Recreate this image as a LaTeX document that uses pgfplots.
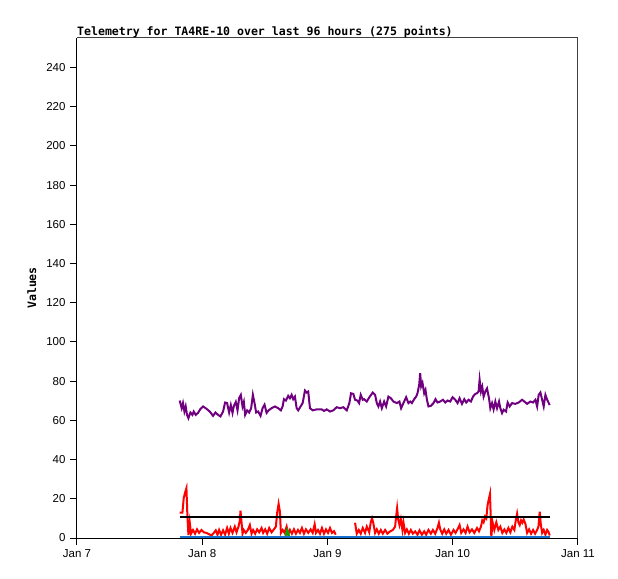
\documentclass[border=0pt]{standalone}
\usepackage{fontspec}
\setmainfont{Liberation Sans}
\newfontfamily\monob{DejaVu Sans Mono}
\usepackage{pgfplots}
\pgfplotsset{compat=1.18}
\definecolor{cpurple}{RGB}{112,0,128}
\definecolor{cblue}{RGB}{20,110,205}
\definecolor{cgreen}{RGB}{0,170,0}
\definecolor{cframe}{RGB}{64,64,64}
\begin{document}
\begin{tikzpicture}
\useasboundingbox (-77bp,-41bp) rectangle (541bp,538bp);
\begin{axis}[
  scale only axis, width=501bp, height=500bp,
  xmin=0, xmax=96, ymin=0, ymax=255,
  clip=false,
  axis x line*=bottom, axis y line*=left,
  axis line style={black, line width=1bp, -},
  x axis line style={opacity=0},
  tick style={black, line width=1bp},
  tick align=outside, major tick length=7bp,
  xtick={0,24,48,72,96},
  xticklabels={Jan 7,Jan 8,Jan 9,Jan 10,Jan 11},
  ytick={0,20,...,240},
  /pgf/number format/assume math mode=true,
  ticklabel style={font=\fontsize{11.5bp}{13bp}\selectfont},
  yticklabel style={xshift=-1bp},
  xticklabel style={yshift=-1bp},
  title={Telemetry for TA4RE-10 over last 96 hours (275 points)},
  title style={at={(axis description cs:0,1)}, anchor=base west, yshift=-3bp, inner sep=0pt,
    font=\monob\bfseries\fontsize{11.55bp}{13bp}\selectfont},
  ylabel={Values},
  ylabel style={at={(axis description cs:-0.09,0.5)}, anchor=center,
    font=\monob\bfseries\fontsize{11.55bp}{13bp}\selectfont},
  every axis plot/.append style={line width=2bp},
]
\draw[black, line width=1bp] (rel axis cs:0,0) -- (rel axis cs:1,0);
\draw[cframe, line width=1bp] (rel axis cs:0,1) -- (rel axis cs:1,1) -- (rel axis cs:1,0);
% purple
\addplot[cpurple] coordinates {
(19.68,70.1)(20.06,66.2)(20.31,68.8)(20.58,64.5)(20.83,67.1)(21.08,62.8)(21.35,61.1)(21.73,64.0)
(22.12,62.8)(22.37,64.5)(22.75,62.8)(23.19,63.8)(23.65,65.8)(24.15,67.1)(24.81,65.9)(25.44,64.5)
(26.07,62.3)(26.53,64.0)(27.03,62.8)(27.49,62.0)(27.99,64.5)(28.38,69.1)(28.76,68.8)(29.15,64.0)
(29.47,67.8)(29.80,63.8)(30.05,67.3)(30.43,69.4)(30.76,65.1)(31.07,71.3)(31.39,73.0)(31.72,67.1)
(31.97,69.4)(32.22,62.8)(32.60,65.1)(32.99,64.0)(33.37,66.2)(33.70,73.0)(34.02,68.8)(34.33,64.0)
(34.71,64.5)(35.17,62.3)(35.56,66.2)(35.94,68.0)(36.33,63.8)(36.71,65.1)(37.29,66.2)(37.92,67.1)
(38.55,66.2)(39.07,65.1)(39.40,67.1)(39.65,70.8)(40.03,70.1)(40.47,72.5)(40.80,71.3)(41.13,73.0)
(41.43,70.8)(41.76,72.1)(42.09,66.2)(42.39,65.1)(42.85,67.1)(43.24,68.8)(43.68,75.2)(44.01,74.2)
(44.31,74.7)(44.64,66.2)(45.16,65.1)(45.93,65.6)(46.89,65.6)(47.33,64.8)(47.85,65.6)(48.48,64.5)
(49.11,65.1)(49.77,66.7)(50.40,66.2)(51.03,66.7)(51.69,65.1)(52.19,68.8)(52.51,73.8)(52.95,73.5)
(53.28,70.5)(53.72,70.1)(54.05,68.8)(54.37,73.0)(54.76,70.5)(55.01,70.8)(55.53,69.6)(56.03,71.8)
(56.68,74.2)(57.12,73.0)(57.45,68.8)(57.75,67.1)(58.08,69.6)(58.41,66.2)(58.85,69.6)(59.23,67.1)
(59.67,72.1)(60.13,71.3)(60.63,69.6)(61.29,68.8)(61.79,69.6)(62.11,66.2)(62.55,68.8)(63.07,71.8)
(63.51,68.8)(63.84,69.6)(64.17,68.8)(64.61,70.8)(64.99,72.1)(65.24,73.8)(65.57,78.1)(65.76,84.1)
(65.95,77.4)(66.20,79.1)(66.53,73.8)(66.78,75.5)(67.05,70.5)(67.35,67.1)(67.81,67.4)(68.31,68.8)
(68.70,70.8)(69.08,69.1)(69.60,69.6)(70.12,70.5)(70.56,69.1)(71.00,70.1)(71.52,69.6)(71.96,71.8)
(72.48,70.5)(72.92,68.8)(73.31,71.3)(73.77,68.4)(74.21,70.8)(74.59,69.1)(75.03,70.5)(75.49,69.6)
(75.88,72.1)(76.32,73.5)(76.65,73.8)(76.95,74.7)(77.15,80.7)(77.41,74.7)(77.66,77.1)(77.91,72.1)
(78.24,74.7)(78.57,76.3)(78.95,71.3)(79.20,66.2)(79.53,68.8)(79.83,65.6)(80.16,69.6)(80.49,66.2)
(80.87,69.6)(81.12,66.2)(81.45,63.7)(81.75,65.4)(82.21,64.5)(82.52,69.1)(82.91,67.1)(83.37,68.8)
(84.00,68.4)(84.63,69.1)(85.29,70.5)(85.73,69.6)(86.25,68.4)(86.88,69.6)(87.40,69.1)(87.84,70.5)
(88.17,67.1)(88.47,73.0)(88.80,74.2)(89.13,70.5)(89.43,67.1)(89.76,73.0)(90.09,70.5)(90.59,67.8)
};
% red, first segment
\addplot[red] coordinates {
(19.68,12.9)(20.20,12.9)(20.45,20.3)(20.70,23.1)(20.97,25.4)(21.16,10.9)(21.35,1.5)(21.60,8.0)
(21.85,2.2)(22.23,4.1)(22.62,2.2)(23.00,4.4)(23.39,2.6)(23.85,4.1)(24.29,2.9)(24.81,2.6)
(25.31,1.9)(25.77,1.3)(26.21,2.6)(26.59,3.9)(26.92,1.7)(27.23,4.1)(27.61,1.7)(27.99,3.9)
(28.38,1.7)(28.76,5.1)(29.09,2.2)(29.41,5.1)(29.80,2.6)(30.24,5.8)(30.57,2.9)(30.95,5.8)
(31.20,8.9)(31.33,13.9)(31.53,8.0)(31.72,2.2)(31.97,4.1)(32.35,2.6)(32.74,4.1)(33.12,6.6)
(33.45,2.2)(33.75,4.1)(34.14,2.2)(34.52,4.4)(34.91,2.9)(35.37,5.1)(35.67,2.6)(36.06,4.4)
(36.44,2.2)(36.83,5.1)(37.29,2.9)(37.73,4.4)(38.11,5.8)(38.36,12.9)(38.63,17.4)(38.88,13.4)
(39.07,2.6)(39.40,4.1)(39.78,2.6)(40.17,5.8)(40.47,1.7)(40.80,4.1)(41.18,2.2)(41.57,4.4)
(41.95,2.2)(42.34,4.1)(42.72,2.6)(43.10,5.1)(43.49,2.2)(43.87,4.4)(44.31,2.6)(44.77,4.4)
(45.16,2.6)(45.54,7.0)(45.79,2.6)(46.18,4.1)(46.56,2.2)(46.94,5.1)(47.33,2.2)(47.71,4.4)
(48.10,2.6)(48.48,5.1)(48.86,2.6)(49.25,3.5)(49.57,1.7)
};
% red, second segment
\addplot[red] coordinates {
(53.28,7.8)(53.61,2.2)(53.99,4.1)(54.37,2.2)(54.76,5.1)(55.20,2.6)(55.53,5.8)(56.00,2.9)
(56.29,8.0)(56.54,10.0)(56.79,7.5)(57.12,2.6)(57.45,4.4)(57.83,2.2)(58.21,4.1)(58.60,2.2)
(59.04,4.1)(59.48,2.2)(60.00,3.4)(60.52,4.1)(60.96,5.8)(61.15,10.9)(61.34,15.2)(61.54,9.6)
(61.79,6.6)(62.05,9.6)(62.36,4.1)(62.55,8.0)(62.88,2.6)(63.21,4.4)(63.59,2.2)(63.97,4.1)
(64.36,2.2)(64.80,3.4)(65.24,1.7)(65.63,3.9)(66.09,1.7)(66.53,3.4)(66.91,1.7)(67.35,4.1)
(67.81,2.2)(68.20,4.1)(68.64,2.2)(69.08,5.1)(69.35,7.8)(69.60,4.4)(69.98,2.2)(70.37,4.4)
(70.75,2.2)(71.19,4.1)(71.65,1.7)(72.15,4.1)(72.54,2.6)(72.92,4.4)(73.31,6.6)(73.63,2.6)
(74.07,4.4)(74.46,2.6)(74.84,5.8)(75.23,2.9)(75.69,4.4)(76.13,2.6)(76.65,5.1)(77.03,3.4)
(77.41,5.8)(77.66,9.0)(77.91,8.0)(78.18,10.9)(78.43,10.0)(78.68,16.9)(78.95,20.3)(79.14,22.5)
(79.26,12.4)(79.39,0.6)(79.64,8.0)(79.97,4.1)(80.35,8.0)(80.74,4.1)(81.12,5.8)(81.50,2.6)
(81.89,4.4)(82.27,2.6)(82.66,5.1)(83.04,2.9)(83.42,5.8)(83.81,4.1)(84.06,8.7)(84.33,12.4)
(84.58,8.0)(84.83,6.6)(85.09,9.0)(85.34,7.8)(85.59,9.4)(85.92,7.3)(86.25,2.6)(86.63,4.4)
(87.01,2.2)(87.40,4.1)(87.78,2.2)(88.17,4.1)(88.42,5.8)(88.67,13.4)(88.86,7.3)(89.13,2.6)
(89.43,4.1)(89.76,1.7)(90.09,4.1)(90.39,2.9)(90.59,1.3)
};
% black threshold
\addplot[black] coordinates {(19.68,10.9)(90.59,10.9)};
% green
\addplot[cgreen] coordinates {(39.90,0)(40.15,3.0)(40.30,4.1)(40.50,2.5)(40.70,0)};
% blue
\addplot[cblue] coordinates {(19.68,0.3)(90.59,0.3)};
\end{axis}
\end{tikzpicture}
\end{document}
